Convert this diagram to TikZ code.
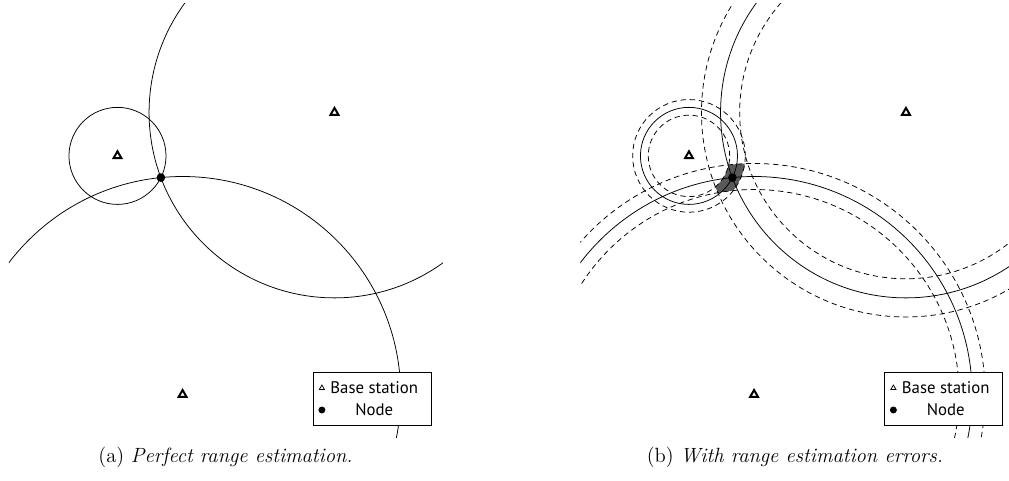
\documentclass[tikz,border=0pt]{standalone}
\usepackage{fontspec}
\setsansfont{PT Sans}
\usetikzlibrary{shapes.geometric,calc}

\tikzset{
  station/.style={regular polygon,regular polygon sides=3,draw,line width=1.3pt,fill=white,inner sep=0pt,minimum size=0.21cm},
  lstation/.style={regular polygon,regular polygon sides=3,draw,line width=0.5pt,fill=white,inner sep=0pt,minimum size=0.14cm},
  target/.style={circle,fill=black,inner sep=0pt,minimum size=0.2cm},
  ltarget/.style={circle,fill=black,inner sep=0pt,minimum size=0.16cm},
  rangeline/.style={line width=0.5pt},
  rangeband/.style={line width=0.5pt,dash pattern=on 3.5pt off 2.5pt},
  zone/.style={fill=black!65},
  legendbox/.style={draw,fill=white,line width=0.5pt,anchor=south west,minimum width=2.72cm,minimum height=1.22cm,inner sep=0pt},
  legendtext/.style={font=\sffamily\fontsize{11}{13}\selectfont,inner sep=0pt},
  captiontext/.style={font=\fontsize{13.5}{16}\selectfont,inner sep=0pt,anchor=base}
}

\begin{document}
\begin{tikzpicture}
\useasboundingbox (-0.207,-0.991) rectangle (23.042,10.092);

% (a) perfect ranges
\begin{scope}
\coordinate (A1) at (2.5,6.5); \coordinate (B1) at (7.5,7.5); \coordinate (C1) at (4,1); \coordinate (N1) at (3.5,6);
\begin{scope}
\clip (0,0) rectangle (10,10);
\draw[rangeline] (A1) circle (1.118) (B1) circle (4.272) (C1) circle (5.025);
\end{scope}
\node[station] (sa1) at (A1) {}; \node[station] (sb1) at (B1) {}; \node[station] (sc1) at (C1) {};
\node[target] (n1) at (N1) {};
\node[legendbox] (leg1) at (7.0,0.28) {};
\node[lstation] (lbs1) at (7.21,1.15) {}; \node[ltarget] (lnd1) at (7.21,0.645) {};
\node[legendtext,anchor=west] (lbase1) at (7.40,1.15) {Base station};
\coordinate (lrow1) at (7.21,0.645);
\node[legendtext] (lnode1) at (lbase1.center |- lrow1) {Node};
\node[captiontext] (cap1) at (4.99,-0.56) {(a) \textit{Perfect range estimation.}};
\end{scope}

% (b) ranges with errors
\begin{scope}[xshift=13.168cm]
\coordinate (A2) at (2.5,6.5); \coordinate (B2) at (7.5,7.5); \coordinate (C2) at (4,1); \coordinate (N2) at (3.5,6);
\begin{scope}
\clip (0,0) rectangle (10,10);
\begin{scope}[even odd rule]
\clip (A2) circle (1.298) (A2) circle (0.938);
\clip (B2) circle (4.712) (B2) circle (3.832);
\clip (C2) circle (5.325) (C2) circle (4.725);
\fill[zone] (0,0) rectangle (10,10);
\end{scope}
\draw[rangeline] (A2) circle (1.118) (B2) circle (4.272) (C2) circle (5.025);
\draw[rangeband] (A2) circle (1.298) (A2) circle (0.938);
\draw[rangeband] (B2) circle (4.712) (B2) circle (3.832);
\draw[rangeband] (C2) circle (5.325) (C2) circle (4.725);
\end{scope}
\node[station] (sa2) at (A2) {}; \node[station] (sb2) at (B2) {}; \node[station] (sc2) at (C2) {};
\node[target] (n2) at (N2) {};
\node[legendbox] (leg2) at (7.0,0.28) {};
\node[lstation] (lbs2) at (7.21,1.15) {}; \node[ltarget] (lnd2) at (7.21,0.645) {};
\node[legendtext,anchor=west] (lbase2) at (7.40,1.15) {Base station};
\coordinate (lrow2) at (7.21,0.645);
\node[legendtext] (lnode2) at (lbase2.center |- lrow2) {Node};
\node[captiontext] (cap2) at (4.94,-0.56) {(b) \textit{With range estimation errors.}};
\end{scope}
\end{tikzpicture}
\end{document}
